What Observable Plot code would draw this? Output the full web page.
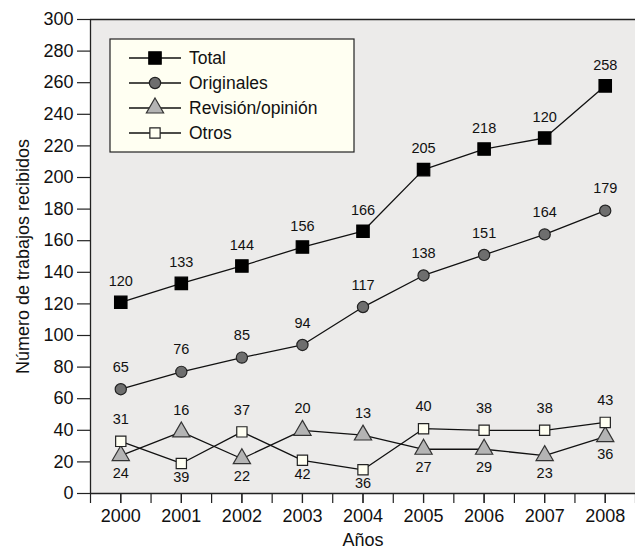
<!DOCTYPE html>
<html>
<head>
<meta charset="utf-8">
<script src="https://cdn.jsdelivr.net/npm/d3@7"></script>
<script src="https://cdn.jsdelivr.net/npm/@observablehq/plot@0.6"></script>
<style>
  html, body { margin: 0; padding: 0; background: #ffffff; }
  #chart svg { display: block; }
</style>
</head>
<body>
<div id="chart"></div>
<script>
// ---- data ----
const years = [2000, 2001, 2002, 2003, 2004, 2005, 2006, 2007, 2008];
const yTicks = [0, 20, 40, 60, 80, 100, 120, 140, 160, 180, 200, 220, 240, 260, 280, 300];
const seriesNames = ["Total", "Originales", "Revisión/opinión", "Otros"];

const totalValues = [121, 133, 144, 156, 166, 205, 218, 225, 258];
const totalLabels = ["120", "133", "144", "156", "166", "205", "218", "120", "258"];

const originalesValues = [66, 77, 86, 94, 118, 138, 151, 164, 179];
const originalesLabels = ["65", "76", "85", "94", "117", "138", "151", "164", "179"];

const revisionValues = [24, 39, 22, 40, 37, 28, 28, 24, 36];
const revisionLabels = ["24", "39", "22", "42", "36", "27", "29", "23", "36"];

const otrosValues = [33, 19, 39, 21, 15, 41, 40, 40, 45];
const otrosLabels = ["31", "16", "37", "20", "13", "40", "38", "38", "43"];

const xLabel = "Años";
const yLabel = "Número de trabajos recibidos";

// ---- build tables ----
const valueSets = [totalValues, originalesValues, revisionValues, otrosValues];
const labelSets = [totalLabels, originalesLabels, revisionLabels, otrosLabels];
const rows = seriesNames.flatMap((s, k) =>
  years.map((year, i) => ({series: s, year, value: valueSets[k][i], label: labelSets[k][i]})));
const bySeries = s => rows.filter(d => d.series === s);

// lower pair: Otros label above the higher point, Revisión label below the lower point
const lowerTop = years.map((year, i) => ({
  year, value: Math.max(revisionValues[i], otrosValues[i]), label: otrosLabels[i]
}));
const lowerBottom = years.map((year, i) => ({
  year, value: Math.min(revisionValues[i], otrosValues[i]), label: revisionLabels[i],
  triLow: revisionValues[i] <= otrosValues[i]
}));

const styles = {
  "Total":            {symbol: "square",   r: 7.0, fill: "#000000", stroke: "#000000"},
  "Originales":       {symbol: "circle",   r: 5.6, fill: "#6e6e6e", stroke: "#222222"},
  "Revisión/opinión": {symbol: "triangle", r: 6.4, fill: "#b4b4b4", stroke: "#333333"},
  "Otros":            {symbol: "square",   r: 5.8, fill: "#fffff2", stroke: "#222222"}
};

const FONT = "'Liberation Sans', Arial, Helvetica, sans-serif";
const W = 635, H = 553;
const plot = Plot.plot({
  width: W,
  height: H,
  marginLeft: 90,
  marginRight: 0,
  marginTop: 19,
  marginBottom: 60,
  style: {fontSize: "18px", fontFamily: FONT, background: "#ffffff", color: "#111"},
  x: {domain: [1999.5, 2008.5], axis: null},
  y: {domain: [0, 300], axis: null},
  marks: [
    Plot.frame({fill: "#ecebea", stroke: null}),
    Plot.axisX({ticks: d3.range(1999.5, 2008.51, 0.5), tickSize: 10, tickFormat: () => "", label: null,
                stroke: "#222", strokeWidth: 1.2}),
    Plot.axisX({ticks: years, tickSize: 10, tickPadding: 6, tickFormat: d => String(d), fontSize: 18,
                stroke: "#222", strokeWidth: 1.2,
                label: xLabel, labelAnchor: "center", labelArrow: "none", labelOffset: 52}),
    Plot.axisY({ticks: yTicks, tickSize: 13, tickPadding: 4, fontSize: 18, stroke: "#222", strokeWidth: 1.2,
                label: yLabel, labelAnchor: "center", labelArrow: "none", labelOffset: 74}),
    Plot.ruleY([0], {stroke: "#222", strokeWidth: 1.3}),
    Plot.ruleY([300], {stroke: "#222", strokeWidth: 1.3}),
    Plot.ruleX([1999.5], {y1: 0, y2: 300, stroke: "#222", strokeWidth: 1.3}),
    Plot.line(rows, {x: "year", y: "value", z: "series", stroke: "#111", strokeWidth: 1.3}),
    ...seriesNames.map(s => Plot.dot(bySeries(s), {
      x: "year", y: "value", symbol: styles[s].symbol, r: styles[s].r,
      fill: styles[s].fill, stroke: styles[s].stroke, strokeWidth: 1.2
    })),
    Plot.text(bySeries("Total"), {x: "year", y: "value", text: "label", dy: -21, fontSize: 14.5, fill: "#111"}),
    Plot.text(bySeries("Originales"), {x: "year", y: "value", text: "label", dy: -22, fontSize: 14.5, fill: "#111"}),
    Plot.text(lowerTop, {x: "year", y: "value", text: "label", dy: -22, fontSize: 14.5, fill: "#111"}),
    Plot.text(lowerBottom.filter(d => d.triLow), {x: "year", y: "value", text: "label", dy: 18, fontSize: 14.5, fill: "#111"}),
    Plot.text(lowerBottom.filter(d => !d.triLow), {x: "year", y: "value", text: "label", dy: 14, fontSize: 14.5, fill: "#111"})
  ]
});

document.getElementById("chart").appendChild(plot);
const svg = d3.select(plot);

// ---- legend (inside plot, top-left) ----
const lg = svg.append("g").attr("class", "legend").attr("font-family", FONT);
const lx = 110, ly = 39, lw = 244, lh = 113;
lg.append("rect").attr("x", lx).attr("y", ly).attr("width", lw).attr("height", lh)
  .attr("fill", "#fffff2").attr("stroke", "#222").attr("stroke-width", 1.2);
seriesNames.forEach((s, i) => {
  const cy = 58 + i * 25;
  lg.append("line").attr("x1", 129).attr("x2", 181).attr("y1", cy).attr("y2", cy)
    .attr("stroke", "#111").attr("stroke-width", 1.3);
  const sym = {square: d3.symbolSquare, circle: d3.symbolCircle, triangle: d3.symbolTriangle}[styles[s].symbol];
  const r = styles[s].r;
  lg.append("path").attr("d", d3.symbol(sym, Math.PI * r * r)())
    .attr("transform", `translate(155,${cy})`)
    .attr("fill", styles[s].fill).attr("stroke", styles[s].stroke).attr("stroke-width", 1.2);
  lg.append("text").attr("x", 189).attr("y", cy).attr("dy", "0.35em")
    .attr("text-anchor", "start")
    .attr("font-size", 17.5).attr("fill", "#111").text(s);
});
</script>
</body>
</html>
